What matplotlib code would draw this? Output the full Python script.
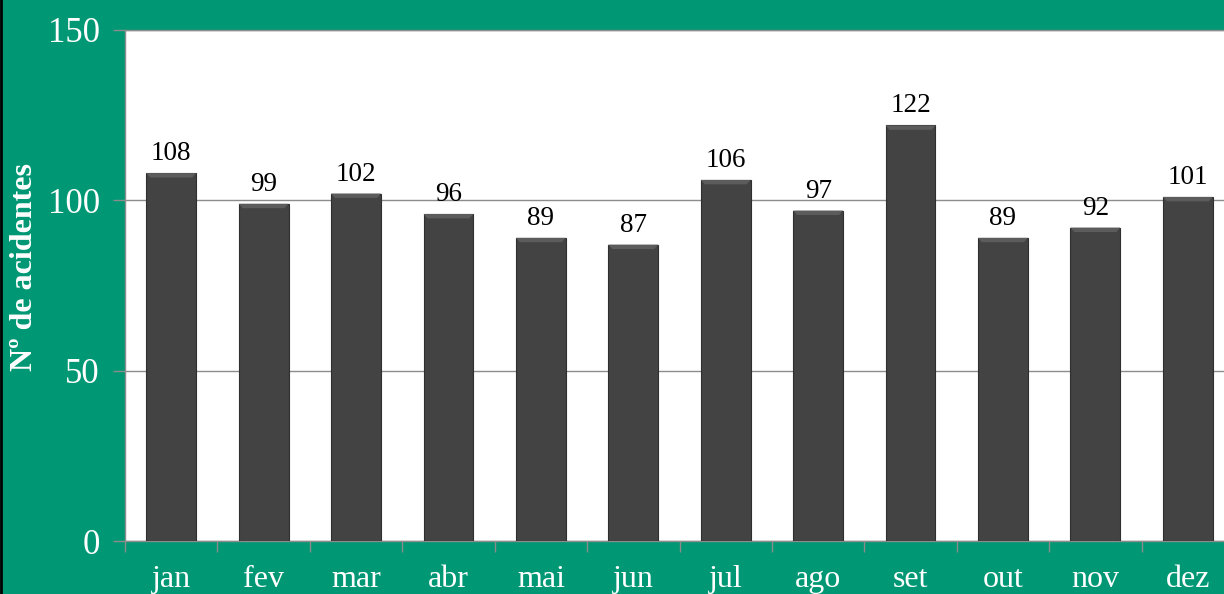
import matplotlib
matplotlib.use("Agg")
import matplotlib.pyplot as plt
import numpy as np

months = ["jan", "fev", "mar", "abr", "mai", "jun", "jul", "ago", "set", "out", "nov", "dez"]
accidents = [108, 99, 102, 96, 89, 87, 106, 97, 122, 89, 92, 101]
y_ticks = [0, 50, 100, 150]
y_label = "Nº de acidentes"

GREEN = "#009874"
BAR = "#434343"
GRID = "#8c8c8c"

plt.rcParams["font.family"] = ["Liberation Serif", "DejaVu Serif"]

fig = plt.figure(figsize=(12.24, 5.94), dpi=100, facecolor=GREEN)
W, H = 1224, 594
left, right, top, bottom = 125, 1234, 30, 541
ax = fig.add_axes([left / W, 1 - bottom / H, (right - left) / W, (bottom - top) / H])
ax.set_facecolor("white")

x = np.arange(len(months))
bars = ax.bar(x, accidents, width=0.54, color=BAR, edgecolor="#2f2f2f", linewidth=0.8, zorder=3)

# subtle bevel on top of each bar
for b in bars:
    bx, bw, bh = b.get_x(), b.get_width(), b.get_height()
    ax.add_patch(plt.Polygon([[bx, bh], [bx + bw, bh], [bx + bw * 0.92, bh - 1.3], [bx + bw * 0.08, bh - 1.3]],
                             closed=True, facecolor="#5c5c5c", edgecolor="none", zorder=4))

for xi, v in zip(x, accidents):
    ax.annotate(str(v), (xi, v), xytext=(0, 5), textcoords="offset points",
                ha="center", va="bottom", fontsize=19.5, color="black", zorder=5)

ax.set_xlim(-0.5, len(months) - 0.5)
ax.set_ylim(0, 150)
ax.set_yticks(y_ticks)
ax.set_yticklabels([str(t) for t in y_ticks])
ax.yaxis.grid(True, color=GRID, linewidth=1)
ax.set_axisbelow(True)

ax.set_xticks(np.arange(len(months) + 1) - 0.5)
ax.set_xticklabels([])
ax.set_xticks(x, minor=True)
ax.set_xticklabels(months, minor=True)
ax.tick_params(axis="x", which="major", length=8, color=GRID, width=1, direction="out")
ax.tick_params(axis="x", which="minor", length=0, pad=17, labelsize=23, labelcolor="white")
ax.tick_params(axis="y", length=9, color=GRID, width=1, direction="out", pad=9, labelsize=25, labelcolor="white")

for s in ["right"]:
    ax.spines[s].set_visible(False)
for s in ["left", "bottom", "top"]:
    ax.spines[s].set_color(GRID)
    ax.spines[s].set_linewidth(1)

fig.text(25 / W, 1 - 267 / H, y_label, rotation=90, ha="center", va="center",
         fontsize=23, fontweight="bold", color="white")

# black border on left edge
fig.add_artist(plt.Line2D([1 / W, 1 / W], [0, 1], color="black", linewidth=2, transform=fig.transFigure))

fig.savefig("out.png", dpi=100, facecolor=GREEN)
